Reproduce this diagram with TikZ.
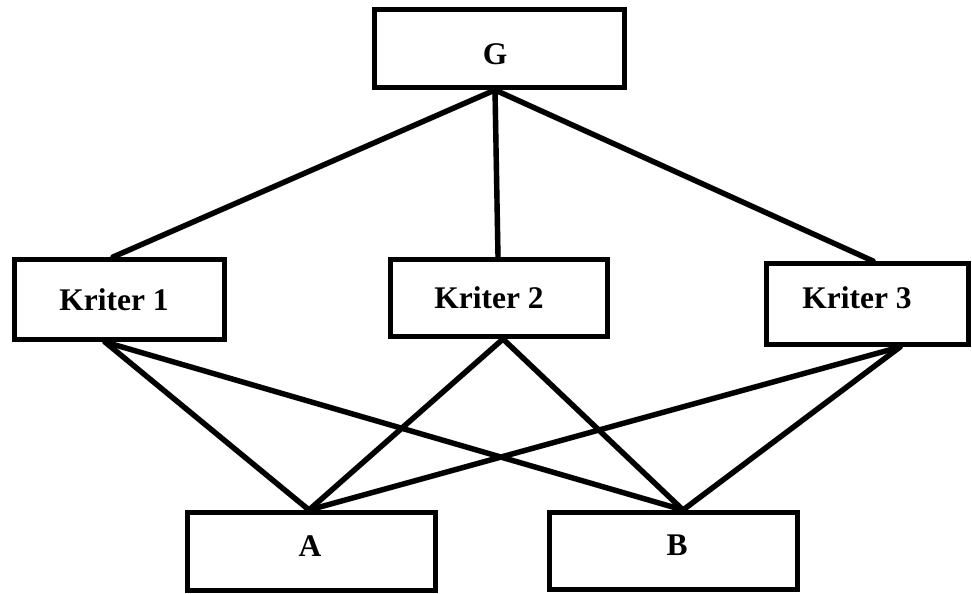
\documentclass[tikz,border=0pt]{standalone}
\usepackage{fontspec}
\setmainfont{Liberation Serif}
\usetikzlibrary{shadows}
\begin{document}
\begin{tikzpicture}[x=1pt,y=-1pt,
  box/.style={draw=black, fill=white, line width=5pt, rectangle, inner sep=0pt,
    drop shadow={opacity=0.18, shadow xshift=1.5pt, shadow yshift=-2.5pt}},
  lbl/.style={anchor=base, inner sep=0pt, font=\fontsize{31.5}{36}\selectfont\bfseries},
  link/.style={line width=5.4pt, line cap=round, line join=round},
  linkshadow/.style={line width=6pt, draw=black, opacity=0.12, line cap=round}]
\useasboundingbox (0,0) rectangle (972,594);
\fill[white] (0,0) rectangle (972,594);

% boxes (positions of the path centre lines)
\node[box, minimum width=250pt, minimum height=78pt] (G)  at (499.5,48.5) {};
\node[box, minimum width=210pt, minimum height=80pt] (K1) at (119.5,299.5) {};
\node[box, minimum width=217pt, minimum height=77pt] (K2) at (499,298) {};
\node[box, minimum width=202pt, minimum height=81pt] (K3) at (867.5,304) {};
\node[box, minimum width=248pt, minimum height=78pt] (A)  at (311.5,551.5) {};
\node[box, minimum width=248pt, minimum height=77pt] (B)  at (673.5,551) {};

% attachment points
\coordinate (Gs)  at ([xshift=-4.5pt]G.south);
\coordinate (K1n) at ([xshift=-6.5pt]K1.north);
\coordinate (K2n) at ([xshift=-1pt]K2.north);
\coordinate (K3n) at ([xshift=5.5pt]K3.north);
\coordinate (K1s) at ([xshift=-14.5pt]K1.south);
\coordinate (K2s) at ([xshift=4pt]K2.south);
\coordinate (K3s) at ([xshift=32.5pt]K3.south);
\coordinate (An)  at ([xshift=-2.5pt]A.north);
\coordinate (Bn)  at ([xshift=9.5pt]B.north);

% connector shadows
\begin{scope}[shift={(1.5,2.5)}]
  \draw[linkshadow] (Gs) -- (K1n) (Gs) -- (K2n) (Gs) -- (K3n);
  \draw[linkshadow] (K1s) -- (An) (K1s) -- (Bn) (K2s) -- (An) (K2s) -- (Bn) (K3s) -- (An) (K3s) -- (Bn);
\end{scope}

% connectors
\draw[link] (Gs) -- (K1n);
\draw[link] (Gs) -- (K2n);
\draw[link] (Gs) -- (K3n);
\draw[link] (K1s) -- (An);
\draw[link] (K1s) -- (Bn);
\draw[link] (K2s) -- (An);
\draw[link] (K2s) -- (Bn);
\draw[link] (K3s) -- (An);
\draw[link] (K3s) -- (Bn);

% labels
\node[lbl] (Gt)  at (495,64)  {G};
\node[lbl] (K1t) at (114,310) {Kriter 1};
\node[lbl] (K2t) at (489,308) {Kriter 2};
\node[lbl] (K3t) at (857,308) {Kriter 3};
\node[lbl] (At)  at (310,556) {A};
\node[lbl] (Bt)  at (677,555) {B};
\end{tikzpicture}
\end{document}
